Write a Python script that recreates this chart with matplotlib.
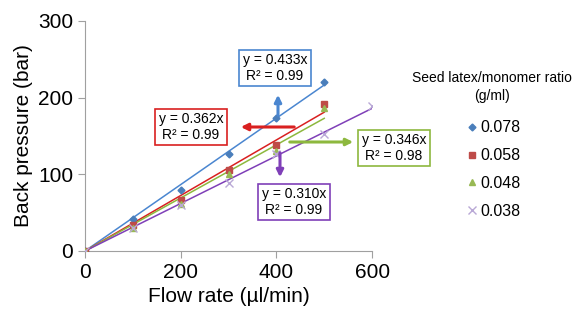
import numpy as np
from matplotlib import pyplot as plt

plt.rcParams['font.family'] = ['Liberation Sans', 'DejaVu Sans']

# flow rate (ul/min) and back pressure (bar) for each seed latex/monomer ratio
flow_078 = [0, 100, 200, 300, 400, 500]
bp_078 = [0, 42, 80, 126, 174, 220]
flow_058 = [0, 100, 200, 300, 400, 500]
bp_058 = [0, 34, 66, 105, 138, 192]
flow_048 = [0, 100, 200, 300, 400, 500]
bp_048 = [0, 30, 61, 100, 131, 186]
flow_038 = [0, 100, 200, 300, 400, 500, 600]
bp_038 = [0, 30, 60, 89, 126, 152, 189]

slopes = [0.433, 0.362, 0.346, 0.310]
r2 = [0.99, 0.99, 0.98, 0.99]
labels = ["0.078", "0.058", "0.048", "0.038"]

fig = plt.figure(figsize=(5.76, 3.22), dpi=100)
ax = fig.add_axes([0.1476, 0.2205, 0.4984, 0.7145])

mk_col = ['#4A7EBB', '#BE4B48', '#98B954', '#B9A8D6']
ln_col = ['#4A86D0', '#D92020', '#8DB83E', '#7F3FB8']
markers = ['D', 's', '^', 'x']
msize = [3.5, 5, 5, 6]
data = [(flow_078, bp_078), (flow_058, bp_058), (flow_048, bp_048), (flow_038, bp_038)]

for i in range(4):
    x, y = data[i]
    ax.plot(x, y, linestyle='none', marker=markers[i], markersize=msize[i],
            color=mk_col[i], label=labels[i], zorder=3)
for i in range(4):
    x, y = data[i]
    xx = np.array([0, max(x)])
    ax.plot(xx, slopes[i] * xx, color=ln_col[i], linewidth=1.1, zorder=2)

ax.set_xlim(0, 600)
ax.set_ylim(0, 300)
ax.set_xticks([0, 200, 400, 600])
ax.set_yticks([0, 100, 200, 300])
ax.tick_params(labelsize=15, color='#A0A0A0', length=5, width=0.8)
ax.spines['top'].set_visible(False)
ax.spines['right'].set_visible(False)
ax.spines['left'].set_color('#A0A0A0')
ax.spines['bottom'].set_color('#A0A0A0')
ax.set_xlabel('Flow rate (µl/min)', fontsize=15)
ax.set_ylabel('Back pressure (bar)', fontsize=15)

# equation boxes with arrows (figure pixel positions)
def box(txt, cx, cy, col):
    fig.text(cx / 576, 1 - cy / 322, txt, ha='center', va='center', fontsize=10,
             linespacing=1.1,
             bbox=dict(boxstyle='square,pad=0.25', fc='white', ec=col, lw=1.2))

def arrow(x0, y0, x1, y1, col):
    ax.annotate('', xy=(x1 / 576, 1 - y1 / 322), xytext=(x0 / 576, 1 - y0 / 322),
                xycoords='figure fraction', textcoords='figure fraction',
                arrowprops=dict(arrowstyle='-|>', color=col, lw=2.2, mutation_scale=10))

box("y = %.3fx\nR² = %.2f" % (slopes[0], r2[0]), 275, 68, ln_col[0])
box("y = %.3fx\nR² = %.2f" % (slopes[1], r2[1]), 191, 127, ln_col[1])
box("y = %.3fx\nR² = %.2f" % (slopes[2], r2[2]), 394, 148, ln_col[2])
box("y = %.3fx\nR² = %.2f" % (slopes[3], r2[3]), 294, 202, ln_col[3])
arrow(278, 118, 278, 92, ln_col[0])
arrow(297, 127, 238, 127, ln_col[1])
arrow(287, 142, 356, 142, ln_col[2])
arrow(280, 150, 280, 180, ln_col[3])

fig.text(492 / 576, 1 - 87 / 322, 'Seed latex/monomer ratio\n(g/ml)', ha='center',
         va='center', fontsize=10, linespacing=1.4)
fig.legend(loc='upper left', bbox_to_anchor=(453 / 576, 1 - 106 / 322), frameon=False,
           fontsize=11.5, handlelength=0.6, handletextpad=0.2, labelspacing=0.8)

fig.savefig('out.png', dpi=100)
